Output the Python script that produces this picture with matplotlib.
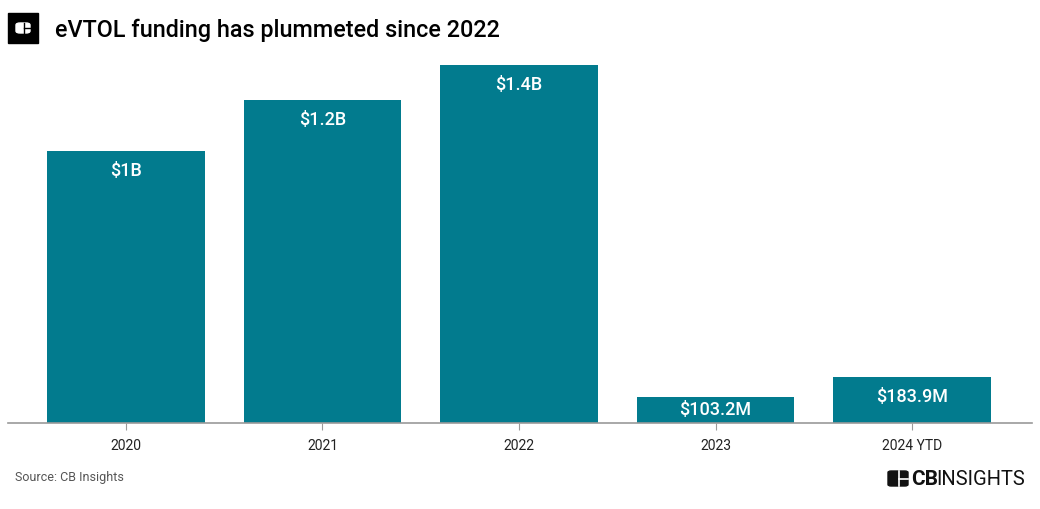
import matplotlib.pyplot as plt
from matplotlib.patches import FancyBboxPatch, Rectangle

plt.rcParams['font.family'] = ['Roboto', 'DejaVu Sans']

years = ['2020', '2021', '2022', '2023', '2024 YTD']
funding_m = [1080, 1280, 1420, 103.2, 183.9]
labels = ['$1B', '$1.2B', '$1.4B', '$103.2M', '$183.9M']

W, H = 1040, 510
teal = '#027B8E'

fig = plt.figure(figsize=(W / 100, H / 100), dpi=100)
ax = fig.add_axes([8 / W, (H - 424) / H, 1024 / W, (424 - 66) / H])

x = range(len(years))
bars = ax.bar(x, funding_m, width=0.8, color=teal, zorder=2)
ax.set_xlim(-0.6, 4.61)
ax.set_ylim(0, max(funding_m))

# value labels inside top of each bar
px_per_unit = (424 - 66) / max(funding_m)
for b, lab in zip(bars, labels):
    h_px = b.get_height() * px_per_unit
    off = min(19, h_px / 2 - 1)
    ax.annotate(lab, (b.get_x() + b.get_width() / 2, b.get_height()),
                xytext=(0, -off * 0.72), textcoords='offset points',
                ha='center', va='center', color='white', fontsize=13,
                fontweight='medium')

for s in ['top', 'right', 'left']:
    ax.spines[s].set_visible(False)
ax.spines['bottom'].set_color('#9a9a9a')
ax.spines['bottom'].set_linewidth(1.2)
ax.set_yticks([])
ax.set_xticks(list(x))
ax.set_xticklabels(years, fontsize=10, color='#222222')
ax.tick_params(axis='x', length=5, color='#9a9a9a', pad=6)

# title with logo box
fig.patches.append(Rectangle((8 / W, (H - 44) / H), 30 / W, 30 / H,
                             transform=fig.transFigure, color='black'))
fig.patches.append(FancyBboxPatch((16 / W, (H - 34) / H), 14 / W, 10 / H,
                                  boxstyle='round,pad=0,rounding_size=0.004',
                                  transform=fig.transFigure, color='white'))
fig.add_artist(plt.Line2D([23.5 / W, 23.5 / W], [(H - 34) / H, (H - 24) / H],
                          transform=fig.transFigure, color='black', lw=1))
fig.add_artist(plt.Line2D([23.5 / W, 30 / W], [(H - 29) / H, (H - 29) / H],
                          transform=fig.transFigure, color='black', lw=1))
fig.text(55 / W, (H - 30) / H, 'eVTOL funding has plummeted since 2022',
         fontsize=16.8, fontweight='medium', color='black', va='center', ha='left')

fig.text(15 / W, (H - 478) / H, 'Source: CB Insights', fontsize=9,
         color='#555555', va='center', ha='left')

# CB Insights logo bottom right
fig.patches.append(FancyBboxPatch((888 / W, (H - 487) / H), 20 / W, 15 / H,
                                  boxstyle='round,pad=0,rounding_size=0.003',
                                  transform=fig.transFigure, color='#111111'))
fig.add_artist(plt.Line2D([899 / W, 899 / W], [(H - 487) / H, (H - 472) / H],
                          transform=fig.transFigure, color='white', lw=1.2))
fig.add_artist(plt.Line2D([899 / W, 908 / W], [(H - 479.5) / H, (H - 479.5) / H],
                          transform=fig.transFigure, color='white', lw=1.2))
fig.text(911 / W, (H - 479.5) / H, 'CB', fontsize=15, fontweight='bold',
         color='#111111', va='center', ha='left')
fig.text(936 / W, (H - 479.5) / H, 'INSIGHTS', fontsize=14.5, fontweight='normal',
         color='#111111', va='center', ha='left')

fig.savefig('out.png', dpi=100)
